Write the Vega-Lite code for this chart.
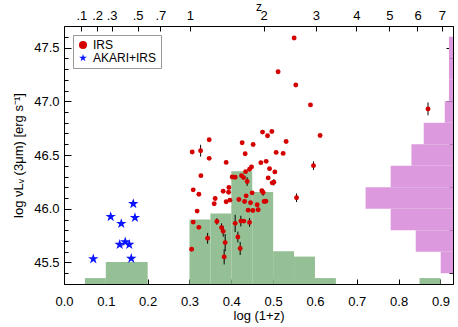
{
  "$schema": "https://vega.github.io/schema/vega-lite/v6.json",
  "width": 389,
  "height": 258,
  "autosize": {"type": "none"},
  "padding": {"left": 64, "top": 26, "right": 5, "bottom": 43},
  "background": "white",
  "config": {
    "view": {"stroke": "black", "strokeWidth": 1},
    "font": "Liberation Sans",
    "axis": {"grid": false, "domain": false, "labelFont": "Liberation Sans", "titleFont": "Liberation Sans", "labelFontSize": 13, "titleFontSize": 13, "titleFontWeight": "normal", "labelColor": "black", "titleColor": "black", "tickColor": "black", "tickWidth": 1, "labelFlush": false, "labelOverlap": false},
    "legend": {"symbolSize": 65}
  },
  "datasets": {
    "zhist": [
      {"lo": 0.05, "hi": 0.10, "top": 45.355},
      {"lo": 0.10, "hi": 0.20, "top": 45.505},
      {"lo": 0.30, "hi": 0.35, "top": 45.90},
      {"lo": 0.35, "hi": 0.40, "top": 45.955},
      {"lo": 0.40, "hi": 0.45, "top": 46.35},
      {"lo": 0.45, "hi": 0.50, "top": 46.155},
      {"lo": 0.50, "hi": 0.55, "top": 45.605},
      {"lo": 0.55, "hi": 0.60, "top": 45.555},
      {"lo": 0.60, "hi": 0.65, "top": 45.355},
      {"lo": 0.85, "hi": 0.90, "top": 45.355}
    ],
    "lhist": [
      {"lo": 45.4, "hi": 45.6, "left": 0.9006},
      {"lo": 45.6, "hi": 45.8, "left": 0.8409},
      {"lo": 45.8, "hi": 46.0, "left": 0.7810},
      {"lo": 46.0, "hi": 46.2, "left": 0.7210},
      {"lo": 46.2, "hi": 46.4, "left": 0.7810},
      {"lo": 46.4, "hi": 46.6, "left": 0.8306},
      {"lo": 46.6, "hi": 46.8, "left": 0.8600},
      {"lo": 46.8, "hi": 47.0, "left": 0.9102},
      {"lo": 47.0, "hi": 47.2, "left": 0.9203},
      {"lo": 47.2, "hi": 47.4, "left": 0.9203},
      {"lo": 47.4, "hi": 47.6, "left": 0.9203}
    ],
    "pts": [
      {"x": 0.5502, "y": 47.589, "err": 0, "s": "IRS"},
      {"x": 0.5119, "y": 47.274, "err": 0, "s": "IRS"},
      {"x": 0.5542, "y": 47.151, "err": 0, "s": "IRS"},
      {"x": 0.5893, "y": 46.966, "err": 0, "s": "IRS"},
      {"x": 0.4747, "y": 46.713, "err": 0, "s": "IRS"},
      {"x": 0.4969, "y": 46.719, "err": 0, "s": "IRS"},
      {"x": 0.4866, "y": 46.679, "err": 0, "s": "IRS"},
      {"x": 0.6123, "y": 46.681, "err": 0, "s": "IRS"},
      {"x": 0.3471, "y": 46.642, "err": 0, "s": "IRS"},
      {"x": 0.5311, "y": 46.626, "err": 0, "s": "IRS"},
      {"x": 0.4259, "y": 46.614, "err": 0, "s": "IRS"},
      {"x": 0.4522, "y": 46.598, "err": 0, "s": "IRS"},
      {"x": 0.3065, "y": 46.528, "err": 0, "s": "IRS"},
      {"x": 0.3266, "y": 46.540, "err": 0.055, "s": "IRS"},
      {"x": 0.4331, "y": 46.512, "err": 0, "s": "IRS"},
      {"x": 0.5072, "y": 46.524, "err": 0, "s": "IRS"},
      {"x": 0.5239, "y": 46.515, "err": 0, "s": "IRS"},
      {"x": 0.3471, "y": 46.469, "err": 0, "s": "IRS"},
      {"x": 0.3877, "y": 46.431, "err": 0, "s": "IRS"},
      {"x": 0.4706, "y": 46.429, "err": 0, "s": "IRS"},
      {"x": 0.4833, "y": 46.441, "err": 0, "s": "IRS"},
      {"x": 0.5965, "y": 46.401, "err": 0.04, "s": "IRS"},
      {"x": 0.4484, "y": 46.389, "err": 0, "s": "IRS"},
      {"x": 0.4436, "y": 46.367, "err": 0, "s": "IRS"},
      {"x": 0.4341, "y": 46.345, "err": 0, "s": "IRS"},
      {"x": 0.4914, "y": 46.373, "err": 0, "s": "IRS"},
      {"x": 0.5041, "y": 46.343, "err": 0, "s": "IRS"},
      {"x": 0.3273, "y": 46.308, "err": 0, "s": "IRS"},
      {"x": 0.4021, "y": 46.296, "err": 0, "s": "IRS"},
      {"x": 0.4092, "y": 46.293, "err": 0, "s": "IRS"},
      {"x": 0.4245, "y": 46.308, "err": 0, "s": "IRS"},
      {"x": 0.4293, "y": 46.290, "err": 0, "s": "IRS"},
      {"x": 0.4881, "y": 46.287, "err": 0, "s": "IRS"},
      {"x": 0.4379, "y": 46.253, "err": 0.04, "s": "IRS"},
      {"x": 0.4976, "y": 46.241, "err": 0, "s": "IRS"},
      {"x": 0.5017, "y": 46.246, "err": 0.03, "s": "IRS"},
      {"x": 0.3942, "y": 46.197, "err": 0, "s": "IRS"},
      {"x": 0.3089, "y": 46.176, "err": 0, "s": "IRS"},
      {"x": 0.3806, "y": 46.163, "err": 0, "s": "IRS"},
      {"x": 0.3935, "y": 46.154, "err": 0, "s": "IRS"},
      {"x": 0.4730, "y": 46.167, "err": 0, "s": "IRS"},
      {"x": 0.4761, "y": 46.151, "err": 0.03, "s": "IRS"},
      {"x": 0.4498, "y": 46.148, "err": 0, "s": "IRS"},
      {"x": 0.3225, "y": 46.135, "err": 0, "s": "IRS"},
      {"x": 0.4355, "y": 46.120, "err": 0, "s": "IRS"},
      {"x": 0.3614, "y": 46.095, "err": 0, "s": "IRS"},
      {"x": 0.5559, "y": 46.102, "err": 0.04, "s": "IRS"},
      {"x": 0.4181, "y": 46.086, "err": 0, "s": "IRS"},
      {"x": 0.4317, "y": 46.068, "err": 0, "s": "IRS"},
      {"x": 0.3966, "y": 46.080, "err": 0, "s": "IRS"},
      {"x": 0.3877, "y": 46.065, "err": 0, "s": "IRS"},
      {"x": 0.3591, "y": 46.046, "err": 0, "s": "IRS"},
      {"x": 0.4785, "y": 46.068, "err": 0, "s": "IRS"},
      {"x": 0.4826, "y": 46.070, "err": 0, "s": "IRS"},
      {"x": 0.4460, "y": 46.056, "err": 0, "s": "IRS"},
      {"x": 0.4618, "y": 46.037, "err": 0, "s": "IRS"},
      {"x": 0.4403, "y": 45.987, "err": 0, "s": "IRS"},
      {"x": 0.4515, "y": 45.984, "err": 0, "s": "IRS"},
      {"x": 0.4642, "y": 45.991, "err": 0, "s": "IRS"},
      {"x": 0.3184, "y": 45.978, "err": 0, "s": "IRS"},
      {"x": 0.3089, "y": 45.876, "err": 0, "s": "IRS"},
      {"x": 0.3655, "y": 45.882, "err": 0.03, "s": "IRS"},
      {"x": 0.4092, "y": 45.864, "err": 0.08, "s": "IRS"},
      {"x": 0.4228, "y": 45.885, "err": 0.05, "s": "IRS"},
      {"x": 0.4300, "y": 45.885, "err": 0, "s": "IRS"},
      {"x": 0.4436, "y": 45.873, "err": 0.04, "s": "IRS"},
      {"x": 0.3225, "y": 45.827, "err": 0, "s": "IRS"},
      {"x": 0.3767, "y": 45.824, "err": 0.04, "s": "IRS"},
      {"x": 0.3806, "y": 45.790, "err": 0.05, "s": "IRS"},
      {"x": 0.3433, "y": 45.725, "err": 0.05, "s": "IRS"},
      {"x": 0.4157, "y": 45.737, "err": 0.05, "s": "IRS"},
      {"x": 0.3853, "y": 45.685, "err": 0.08, "s": "IRS"},
      {"x": 0.3051, "y": 45.623, "err": 0, "s": "IRS"},
      {"x": 0.4212, "y": 45.630, "err": 0.06, "s": "IRS"},
      {"x": 0.3829, "y": 45.552, "err": 0.07, "s": "IRS"},
      {"x": 0.8703, "y": 46.929, "err": 0.06, "s": "IRS"},
      {"x": 0.1656, "y": 46.046, "err": 0, "s": "AKARI+IRS"},
      {"x": 0.1116, "y": 45.926, "err": 0, "s": "AKARI+IRS"},
      {"x": 0.1696, "y": 45.917, "err": 0, "s": "AKARI+IRS"},
      {"x": 0.1369, "y": 45.861, "err": 0, "s": "AKARI+IRS"},
      {"x": 0.1464, "y": 45.691, "err": 0, "s": "AKARI+IRS"},
      {"x": 0.1331, "y": 45.667, "err": 0, "s": "AKARI+IRS"},
      {"x": 0.1560, "y": 45.667, "err": 0, "s": "AKARI+IRS"},
      {"x": 0.0700, "y": 45.533, "err": 0, "s": "AKARI+IRS"},
      {"x": 0.1608, "y": 45.537, "err": 0, "s": "AKARI+IRS"}
    ]
  },
  "layer": [
    {
      "data": {"name": "zhist"},
      "mark": {"type": "rect", "color": "#95c095"},
      "encoding": {
        "x": {"field": "lo", "type": "quantitative", "scale": {"domain": [0, 0.93], "nice": false, "zero": false},
          "axis": {"orient": "bottom", "values": [0, 0.1, 0.2, 0.3, 0.4, 0.5, 0.6, 0.7, 0.8, 0.9], "format": ".1f", "offset": -5, "tickSize": 5, "labelPadding": 11, "title": "log (1+z)", "titlePadding": 1}},
        "x2": {"field": "hi"},
        "y": {"field": "top", "type": "quantitative", "scale": {"domain": [45.3, 47.7], "nice": false, "zero": false},
          "axis": {"orient": "left", "values": [45.3, 45.4, 45.5, 45.6, 45.7, 45.8, 45.9, 46.0, 46.1, 46.2, 46.3, 46.4, 46.5, 46.6, 46.7, 46.8, 46.9, 47.0, 47.1, 47.2, 47.3, 47.4, 47.5, 47.6, 47.7],
            "labelExpr": "abs(datum.value*2 - round(datum.value*2)) < 0.001 ? format(datum.value, '.1f') : ''",
            "offset": -7, "tickSize": 7,
            "tickDash": {"condition": {"test": "abs(datum.value*2 - round(datum.value*2)) < 0.001", "value": [7, 0]}, "value": [0, 3, 4, 0]},
            "labelPadding": 5, "title": "log νLᵥ (3μm) [erg s⁻¹]", "titlePadding": 8}},
        "y2": {"datum": 45.3}
      }
    },
    {
      "data": {"name": "lhist"},
      "mark": {"type": "rect", "color": "#dd99dd"},
      "encoding": {
        "x": {"field": "left", "type": "quantitative", "scale": {"domain": [0, 0.93], "nice": false, "zero": false},
          "axis": {"orient": "top", "values": [0.04139, 0.07918, 0.11394, 0.17609, 0.23045, 0.30103, 0.47712, 0.60206, 0.69897, 0.77815, 0.8451, 0.90309],
            "labelExpr": "pow(10, datum.value) - 1 < 0.95 ? replace(format(pow(10, datum.value) - 1, '.1f'), '0.', '.') : format(pow(10, datum.value) - 1, '.0f')",
            "offset": -5, "tickSize": 5, "labelPadding": 4, "title": "z", "titleFontSize": 12, "titlePadding": -4}},
        "x2": {"datum": 0.93},
        "y": {"field": "lo", "type": "quantitative", "scale": {"domain": [45.3, 47.7], "nice": false, "zero": false},
          "axis": {"orient": "right", "values": [45.3, 45.4, 45.5, 45.6, 45.7, 45.8, 45.9, 46.0, 46.1, 46.2, 46.3, 46.4, 46.5, 46.6, 46.7, 46.8, 46.9, 47.0, 47.1, 47.2, 47.3, 47.4, 47.5, 47.6, 47.7],
            "labels": false, "offset": -7, "tickSize": 7,
            "tickDash": {"condition": {"test": "abs(datum.value*2 - round(datum.value*2)) < 0.001", "value": [7, 0]}, "value": [0, 3, 4, 0]},
            "title": null}},
        "y2": {"field": "hi"}
      }
    },
    {
      "data": {"name": "pts"},
      "transform": [{"filter": "datum.err > 0"}],
      "mark": {"type": "errorbar", "color": "black", "thickness": 1},
      "encoding": {
        "x": {"field": "x", "type": "quantitative", "scale": {"domain": [0, 0.93], "nice": false, "zero": false}, "axis": null},
        "y": {"field": "y", "type": "quantitative", "scale": {"domain": [45.3, 47.7], "nice": false, "zero": false}, "axis": null},
        "yError": {"field": "err"}
      }
    },
    {
      "data": {"name": "pts"},
      "mark": {"type": "point", "filled": true, "opacity": 1},
      "encoding": {
        "x": {"field": "x", "type": "quantitative", "scale": {"domain": [0, 0.93], "nice": false, "zero": false}, "axis": null},
        "y": {"field": "y", "type": "quantitative", "scale": {"domain": [45.3, 47.7], "nice": false, "zero": false}, "axis": null},
        "color": {"field": "s", "type": "nominal", "scale": {"domain": ["IRS", "AKARI+IRS"], "range": ["#d40000", "#0a14ff"]},
          "legend": {"orient": "top-left", "title": null, "fillColor": "white", "strokeColor": "#999999", "padding": 4, "offset": 9, "labelFontSize": 12, "labelFont": "Liberation Sans", "labelColor": "black", "rowPadding": 1, "symbolStrokeWidth": 0}},
        "shape": {"field": "s", "type": "nominal", "scale": {"domain": ["IRS", "AKARI+IRS"], "range": ["circle", "M0,-1L0.2245,-0.309L0.951,-0.309L0.363,0.118L0.588,0.809L0,0.382L-0.588,0.809L-0.363,0.118L-0.951,-0.309L-0.2245,-0.309Z"]}},
        "size": {"condition": {"test": "datum.s === 'IRS'", "value": 24}, "value": 120}
      }
    }
  ],
  "resolve": {"axis": {"x": "independent", "y": "independent"}}
}
